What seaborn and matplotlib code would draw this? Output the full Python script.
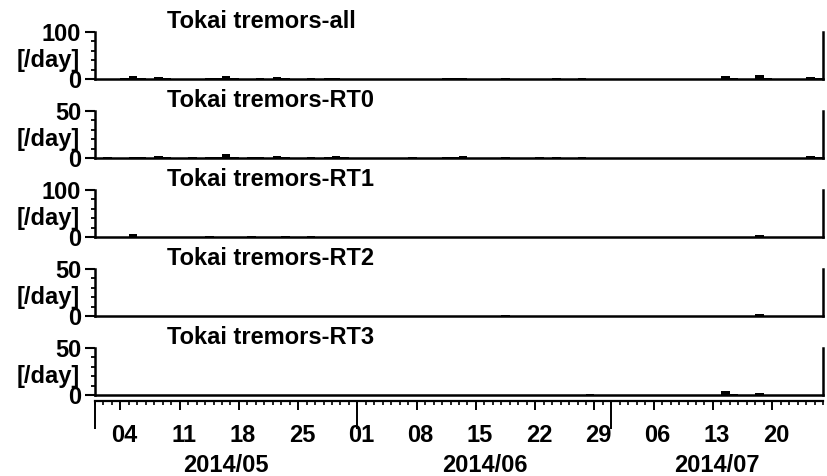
import numpy as np
import pandas as pd
import matplotlib
matplotlib.use("Agg")
import matplotlib.pyplot as plt
import matplotlib.transforms as mtransforms
import seaborn as sns

# ---- data: daily tremor counts, 2014-05-01 .. 2014-07-25 ----
start_date = "2014-05-01"
end_date = "2014-07-26"
n_days = 86

counts_all = [1, 1, 0, 2, 6, 2, 1,
              4, 2, 1, 1, 0, 1, 2,
              3, 6, 2, 1, 1, 2, 1,
              4, 2, 1, 1, 2, 1, 3,
              2, 1, 0, 1, 1, 0, 0,
              1, 0, 1, 1, 0, 1, 2,
              2, 3, 1, 1, 0, 1, 3,
              1, 0, 1, 1, 0, 2, 1,
              1, 2, 1, 0, 0, 1, 0,
              0, 1, 0, 0, 1, 0, 1,
              0, 1, 0, 1, 7, 2, 1,
              1, 8, 2, 1, 0, 1, 1,
              4, 2]
counts_rt0 = [0, 1, 0, 0, 1, 1, 0,
              2, 1, 0, 0, 1, 0, 1,
              1, 4, 1, 0, 1, 1, 0,
              2, 1, 0, 0, 1, 0, 1,
              2, 1, 0, 0, 0, 0, 0,
              0, 0, 1, 0, 0, 0, 1,
              1, 2, 0, 0, 0, 0, 1,
              0, 0, 0, 1, 0, 1, 0,
              0, 1, 0, 0, 0, 0, 0,
              0, 0, 0, 0, 0, 0, 0,
              0, 0, 0, 0, 0, 0, 0,
              0, 0, 0, 0, 0, 0, 0,
              2, 1]
counts_rt1 = [1, 0, 0, 1, 6, 1, 0,
              1, 1, 0, 0, 0, 0, 3,
              1, 1, 0, 0, 3, 1, 0,
              1, 2, 1, 1, 2, 0, 1,
              0, 0, 0, 1, 0, 0, 0,
              0, 0, 0, 0, 1, 0, 0,
              0, 1, 0, 0, 0, 1, 0,
              0, 1, 0, 0, 0, 1, 0,
              0, 0, 1, 0, 0, 0, 0,
              0, 0, 0, 0, 0, 0, 1,
              0, 0, 1, 0, 1, 1, 0,
              1, 5, 1, 0, 0, 0, 0,
              1, 0]
counts_rt2 = [0, 0, 0, 0, 0, 0, 0,
              0, 0, 0, 0, 0, 0, 0,
              0, 0, 0, 0, 0, 0, 0,
              0, 0, 0, 0, 0, 0, 0,
              0, 0, 0, 0, 0, 0, 0,
              0, 0, 0, 0, 0, 0, 0,
              0, 0, 0, 0, 0, 0, 1,
              0, 0, 0, 0, 0, 0, 0,
              0, 0, 0, 0, 0, 0, 0,
              0, 0, 0, 0, 0, 0, 0,
              0, 0, 0, 0, 0, 0, 0,
              0, 2, 0, 0, 0, 0, 0,
              0, 0]
counts_rt3 = [0, 0, 0, 0, 0, 0, 0,
              0, 0, 0, 0, 0, 0, 0,
              0, 0, 0, 0, 0, 0, 0,
              0, 0, 0, 0, 0, 0, 0,
              0, 0, 0, 0, 0, 0, 0,
              0, 0, 0, 0, 0, 0, 0,
              0, 0, 0, 0, 0, 0, 0,
              0, 0, 0, 0, 0, 0, 0,
              0, 0, 1, 0, 0, 0, 0,
              0, 0, 0, 0, 0, 0, 0,
              0, 0, 0, 0, 4, 1, 0,
              0, 2, 0, 0, 0, 0, 0,
              0, 0]

panel_titles = ["Tokai tremors-all", "Tokai tremors-RT0", "Tokai tremors-RT1",
                "Tokai tremors-RT2", "Tokai tremors-RT3"]
panel_counts = [counts_all, counts_rt0, counts_rt1, counts_rt2, counts_rt3]
panel_ymax = [100, 50, 100, 50, 50]
panel_minor_step = [20, 10, 20, 10, 10]
unit_label = "[/day]"

week_ticks = pd.date_range("2014-05-04", "2014-07-20", freq="7D")
month_starts = pd.to_datetime(["2014-05-01", "2014-06-01", "2014-07-01"])
month_labels = ["2014/05", "2014/06", "2014/07"]

# ---- style ----
sns.set_style("ticks")
plt.rcParams["font.family"] = ["Liberation Sans", "DejaVu Sans"]
plt.rcParams["font.weight"] = "bold"
for key in ("text.color", "axes.labelcolor", "xtick.color", "ytick.color",
            "axes.edgecolor"):
    plt.rcParams[key] = "black"
FS = 17

t0 = pd.Timestamp(start_date)
t_end = pd.Timestamp(end_date)
dates = pd.date_range(t0, periods=n_days, freq="D")
day_index = np.asarray((dates - t0).days, dtype=float) + 0.5
x_max = float((t_end - t0).days)

W, H = 828, 476
fig = plt.figure(figsize=(W / 100, H / 100), dpi=100)

left_px, right_px = 95, 823
panel_h = 47
first_zero = 79
spacing = 79


def frac_box(zero_px, height_px):
    return [left_px / W, 1 - zero_px / H, (right_px - left_px) / W, height_px / H]


for i, (title, counts, ymax, mstep) in enumerate(
        zip(panel_titles, panel_counts, panel_ymax, panel_minor_step)):
    zero_px = first_zero + spacing * i
    ax = fig.add_axes(frac_box(zero_px, panel_h))
    df = pd.DataFrame({"day": day_index, "count": counts})
    sns.histplot(data=df, x="day", weights="count", binwidth=1,
                 binrange=(0, n_days), color="black", alpha=1,
                 linewidth=0, ax=ax)
    ax.set_xlim(0, x_max)
    ax.set_ylim(0, ymax)
    ax.set_xlabel("")
    ax.set_ylabel(unit_label, rotation=0, ha="right", va="center",
                  fontsize=FS, fontweight="bold")
    ax.yaxis.set_label_coords(-15 / (right_px - left_px), 0.40)
    ax.set_yticks([0, ymax])
    ax.set_yticklabels(["0", str(ymax)])
    ax.set_yticks(np.arange(mstep, ymax, mstep), minor=True)
    ax.tick_params(axis="y", which="major", direction="out", length=7,
                   width=1.5, labelsize=FS, pad=3)
    ax.tick_params(axis="y", which="minor", direction="out", length=3,
                   width=1.3)
    ax.tick_params(axis="x", which="both", bottom=False, labelbottom=False)
    for side in ("left", "right", "bottom"):
        ax.spines[side].set_linewidth(1.8)
        ax.spines[side].set_color("black")
    ax.spines["top"].set_visible(False)
    ax.text(72 / (right_px - left_px), 1.09, title, transform=ax.transAxes,
            ha="left", va="baseline", fontsize=FS, fontweight="bold")

# ---- shared date axis ----
axd = fig.add_axes(frac_box(401, 0.5))
axd.set_xlim(0, x_max)
axd.set_yticks([])
for side in ("left", "right", "top"):
    axd.spines[side].set_visible(False)
axd.spines["bottom"].set_linewidth(1.6)
axd.patch.set_visible(False)

week_pos = np.asarray((week_ticks - t0).days, dtype=float)
axd.set_xticks(week_pos)
axd.set_xticklabels(week_ticks.strftime("%d"))
axd.set_xticks(np.arange(0, x_max + 1), minor=True)
axd.tick_params(axis="x", which="major", direction="out", length=6.5,
                width=1.4, labelsize=FS, pad=10)
axd.tick_params(axis="x", which="minor", direction="out", length=3,
                width=1.2)
shift = mtransforms.ScaledTranslation(4 / 100, 0, fig.dpi_scale_trans)
for lab in axd.get_xticklabels():
    lab.set_transform(lab.get_transform() + shift)

# long ticks at month starts
month_pos = np.asarray((month_starts - t0).days, dtype=float)
sec = axd.secondary_xaxis("bottom")
sec.set_xticks(month_pos)
sec.set_xticklabels([""] * len(month_pos))
sec.tick_params(axis="x", which="major", direction="out", length=20,
                width=1.4)
sec.tick_params(axis="x", which="minor", bottom=False)
sec.spines["bottom"].set_visible(False)

# month names centred over the visible part of each month
month_ends = list(month_pos[1:]) + [x_max]
month_mid = [(a + b) / 2 for a, b in zip(month_pos, month_ends)]
sec2 = axd.secondary_xaxis("bottom")
sec2.set_xticks(month_mid)
sec2.set_xticklabels(month_labels)
sec2.tick_params(axis="x", which="major", length=0, labelsize=FS, pad=38)
sec2.tick_params(axis="x", which="minor", bottom=False)
sec2.spines["bottom"].set_visible(False)

fig.savefig("out.png", dpi=100)
